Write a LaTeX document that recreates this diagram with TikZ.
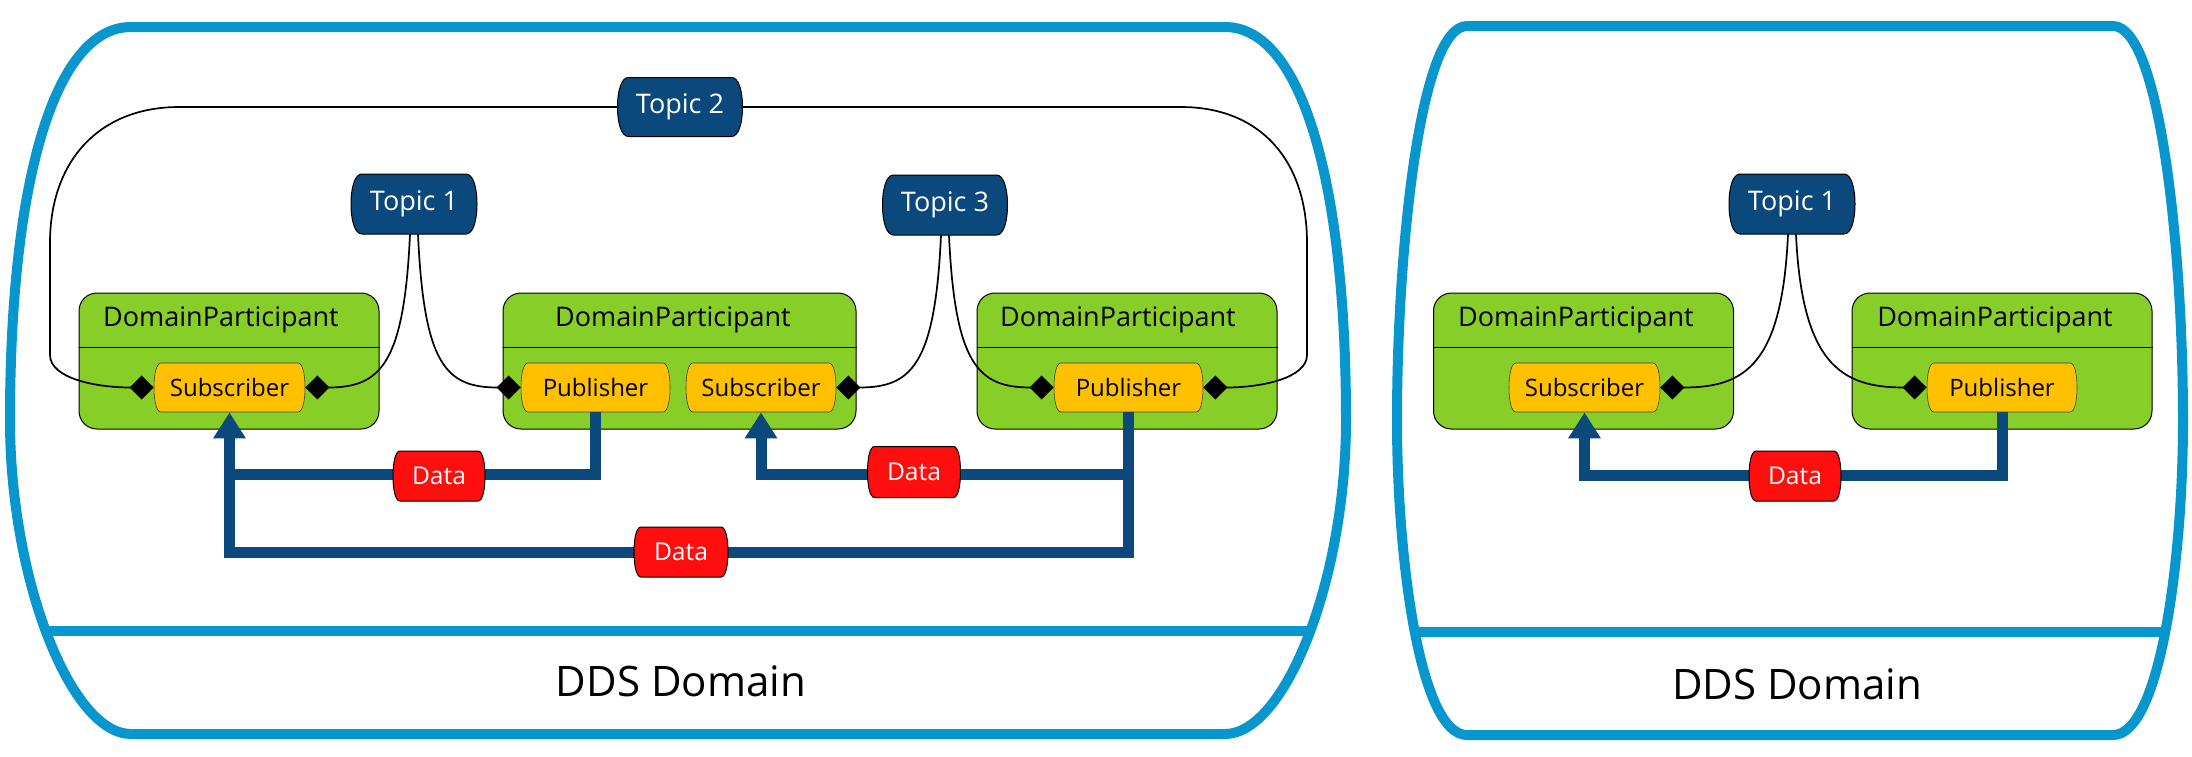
\documentclass[tikz,border=0pt]{standalone}
\usepackage{fontspec}
\setmainfont{Open Sans}
\usetikzlibrary{arrows.meta}
\definecolor{domblue}{RGB}{8,150,206}
\definecolor{topblue}{RGB}{11,72,124}
\definecolor{dpgreen}{RGB}{136,206,41}
\definecolor{amber}{RGB}{255,192,0}
\definecolor{datared}{RGB}{255,14,14}
% #1 name, #2 x, #3 y, #4 half width, #5 half height, #6 corner, #7 outline style, #8 text style, #9 text
\newcommand\bulgybox[9]{%
  \path[#7,shift={(#2,#3)}] (-#4+#6,-#5) -- (#4-#6,-#5)
    .. controls (#4-0.35*#6,-#5) and (#4,-0.55*#5) .. (#4,0)
    .. controls (#4,0.55*#5) and (#4-0.35*#6,#5) .. (#4-#6,#5)
    -- (-#4+#6,#5)
    .. controls (-#4+0.35*#6,#5) and (-#4,0.55*#5) .. (-#4,0)
    .. controls (-#4,-0.55*#5) and (-#4+0.35*#6,-#5) .. cycle;
  \node[#8,inner sep=0pt,minimum width=#4pt,minimum height=#5pt] (#1) at (#2,#3) {#9};%
}
\begin{document}
\begin{tikzpicture}[x=0.5pt,y=-0.5pt,
  ddsframe/.style={draw=domblue,line width=5pt},
  topicline/.style={draw=black,line width=0.5pt,fill=topblue},
  topictext/.style={text=white,font=\fontsize{13.5}{15}\selectfont},
  dpbox/.style={draw=black,line width=0.5pt,fill=dpgreen,rounded corners=9pt,
    minimum width=150pt,minimum height=68pt,inner sep=0pt},
  dptitle/.style={inner sep=0pt,font=\fontsize{13.5}{15}\selectfont},
  psline/.style={draw=black!75,line width=0.3pt,fill=amber},
  pstext/.style={font=\fontsize{12}{14}\selectfont},
  dataline/.style={draw=black,line width=0.5pt,fill=datared},
  datatext/.style={text=white,font=\fontsize{12.3}{14}\selectfont},
  toplink/.style={draw=black,line width=0.85pt,-{Diamond[length=12pt,width=12pt]}},
  dataflow/.style={draw=topblue,line width=5.5pt},
  flowarrow/.style={dataflow,-{Triangle[length=13pt,width=15.5pt]}},
  ddslabel/.style={inner sep=0pt,font=\fontsize{21}{24}\selectfont}
]
\useasboundingbox (0,0) rectangle (2192,756);

% ---------- domains ----------
\draw[ddsframe] (131,27) -- (1225,27) .. controls (1301,27) and (1346,180) .. (1346,420)
  .. controls (1346,580) and (1285,734) .. (1225,734) -- (131,734)
  .. controls (71,734) and (10,580) .. (10,420) .. controls (10,180) and (55,27) .. cycle;
\draw[ddsframe] (42,631) -- (1314,631);
\node[ddslabel] (ddsA) at (681,681) {DDS Domain};

\draw[ddsframe] (1467,26) -- (2113,26) .. controls (2160,26) and (2183,250) .. (2183,420)
  .. controls (2183,560) and (2160,735) .. (2113,735) -- (1467,735)
  .. controls (1420,735) and (1397,560) .. (1397,420) .. controls (1397,250) and (1420,26) .. cycle;
\draw[ddsframe] (1415,632) -- (2165,632);
\node[ddslabel] (ddsB) at (1797,684) {DDS Domain};

% ---------- participants ----------
\node[dpbox] (DP1) at (229,361) {};
\node[dpbox,minimum width=176.5pt] (DP2) at (679.5,361) {};
\node[dpbox] (DP3) at (1127,361) {};
\node[dpbox] (DP4) at (1583.5,361) {};
\node[dpbox] (DP5) at (2002,361) {};
\foreach \d in {DP1,DP2,DP3,DP4,DP5}{
  \draw[line width=0.5pt] ([yshift=7pt]\d.west) -- ([yshift=7pt]\d.east);
}
\node[dptitle] (DT1) at (221,320) {DomainParticipant};
\node[dptitle] (DT2) at (673,320) {DomainParticipant};
\node[dptitle] (DT3) at (1118,320) {DomainParticipant};
\node[dptitle] (DT4) at (1576,320) {DomainParticipant};
\node[dptitle] (DT5) at (1995,320) {DomainParticipant};

\bulgybox{Sub1}{229.5}{387.5}{75.5}{24.5}{7}{psline}{pstext}{Subscriber}
\bulgybox{Pub2}{595.5}{387.5}{74.5}{24.5}{7}{psline}{pstext}{Publisher}
\bulgybox{Sub2}{761}{387.5}{75}{24.5}{7}{psline}{pstext}{Subscriber}
\bulgybox{Pub3}{1128.5}{387.5}{74.5}{24.5}{7}{psline}{pstext}{Publisher}
\bulgybox{SubR}{1584.5}{387.5}{75.5}{24.5}{7}{psline}{pstext}{Subscriber}
\bulgybox{PubR}{2002}{387.5}{75}{24.5}{7}{psline}{pstext}{Publisher}

% ---------- topics ----------
\bulgybox{T2}{680}{107}{62.5}{29.5}{11}{topicline}{topictext}{Topic 2}
\bulgybox{T1}{414}{204}{63}{30}{11}{topicline}{topictext}{Topic 1}
\bulgybox{T3}{945}{205}{62.5}{30}{11}{topicline}{topictext}{Topic 3}
\bulgybox{T1R}{1792}{204}{63}{30}{11}{topicline}{topictext}{Topic 1}

% ---------- topic links ----------
\draw[toplink] ([xshift=-2pt]T1.south) .. controls +(-6,130) and +(75,0) .. (Sub1.east);
\draw[toplink] ([xshift=2pt]T1.south) .. controls +(6,130) and +(-75,0) .. (Pub2.west);
\draw[toplink] ([xshift=-2pt]T3.south) .. controls +(-6,130) and +(75,0) .. (Sub2.east);
\draw[toplink] ([xshift=2pt]T3.south) .. controls +(6,130) and +(-75,0) .. (Pub3.west);
\draw[toplink] ([xshift=-2pt]T1R.south) .. controls +(-6,130) and +(85,0) .. (SubR.east);
\draw[toplink] ([xshift=2pt]T1R.south) .. controls +(6,130) and +(-85,0) .. (PubR.west);
\draw[toplink] (T2.west) -- (179,107) .. controls (100,107) and (50,160) .. (50,243) -- (50,355)
  .. controls (50,378) and (95,387.5) .. (Sub1.west);
\draw[toplink] (T2.east) -- (1181,107) .. controls (1260,107) and (1307,160) .. (1307,243) -- (1307,355)
  .. controls (1307,378) and (1262,387.5) .. (Pub3.east);

% ---------- data flows ----------
\coordinate (jA) at (229.5,474);
\coordinate (jB) at (229.5,552);
\coordinate (jC) at (1128.5,474);
\coordinate (jR) at (1584.5,475);
\draw[dataflow] (Pub2.south) |- (jA);
\draw[flowarrow] (Pub3.south) |- (jB) -- (Sub1.south);
\draw[flowarrow] (jC) -| (Sub2.south);
\draw[flowarrow] (PubR.south) |- (jR) -- (SubR.south);

\bulgybox{D1}{439}{476}{46}{25}{7}{dataline}{datatext}{Data}
\bulgybox{D2}{914}{472}{46.5}{25.5}{7}{dataline}{datatext}{Data}
\bulgybox{D3}{681}{552}{47}{25}{7}{dataline}{datatext}{Data}
\bulgybox{DR}{1795}{476}{46}{25}{7}{dataline}{datatext}{Data}
\end{tikzpicture}
\end{document}
